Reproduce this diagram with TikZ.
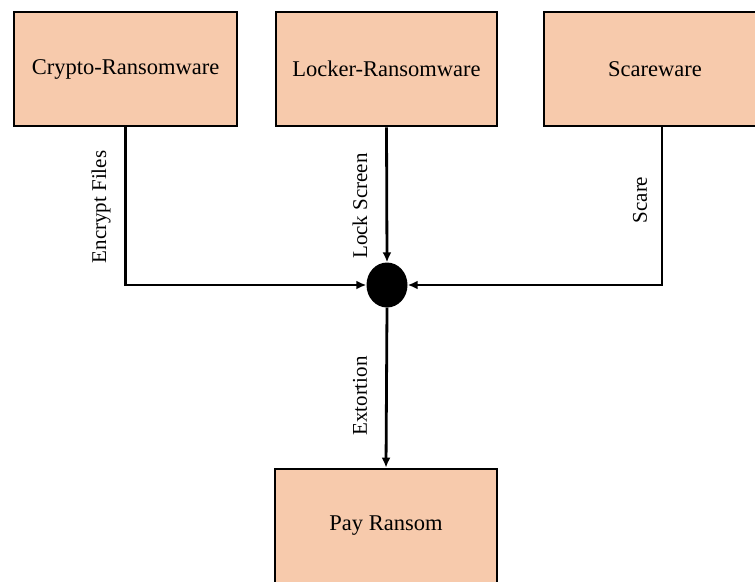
\documentclass[tikz,border=0pt]{standalone}
\usepackage{fontspec}
\setmainfont{Liberation Serif}
\usetikzlibrary{arrows.meta,shapes.geometric}
\definecolor{boxfill}{HTML}{F7CAAC}
\begin{document}
\begin{tikzpicture}[x=1pt,y=1pt,
  every node/.style={font=\fontsize{22.5}{26}\selectfont},
  typebox/.style={draw=black,line width=2.8pt,fill=boxfill,inner sep=0pt},
  flow/.style={line width=2.8pt,-{Latex[length=10pt,width=9pt]}},
  edgelabel/.style={rotate=90,inner sep=2pt,font=\fontsize{21}{24}\selectfont}]
\useasboundingbox (0,0) rectangle (755,-581);
% source boxes
\node[typebox,minimum width=223pt,minimum height=114pt] (crypto) at (125.5,-69) {Crypto-Ransomware};
\node[typebox,minimum width=221pt,minimum height=114pt] (locker) at (386.5,-69) {Locker-Ransomware};
\node[typebox,minimum width=236pt,minimum height=114pt] (scare) at (662,-69) {};
\node at (655,-69) {Scareware};
% target box
\node[typebox,minimum width=222pt,minimum height=131pt] (pay) at (386,-534.5) {};
\node at (386,-526) {Pay Ransom};
% junction
\node[ellipse,fill=black,minimum width=41pt,minimum height=45pt,inner sep=0pt] (hub) at (387,-285) {};
% connectors
\draw[flow] (crypto.south) |- (hub.west);
\draw[flow] (locker.south) -- (hub.north);
\draw[flow] (scare.south) |- (hub.east);
\draw[flow] (hub.south) -- (pay.north);
% labels
\node[edgelabel] at (101,-207) {Encrypt Files};
\node[edgelabel] at (360,-206) {Lock Screen};
\node[edgelabel] at (640,-200) {Scare};
\node[edgelabel] at (360,-396) {Extortion};
\end{tikzpicture}
\end{document}
